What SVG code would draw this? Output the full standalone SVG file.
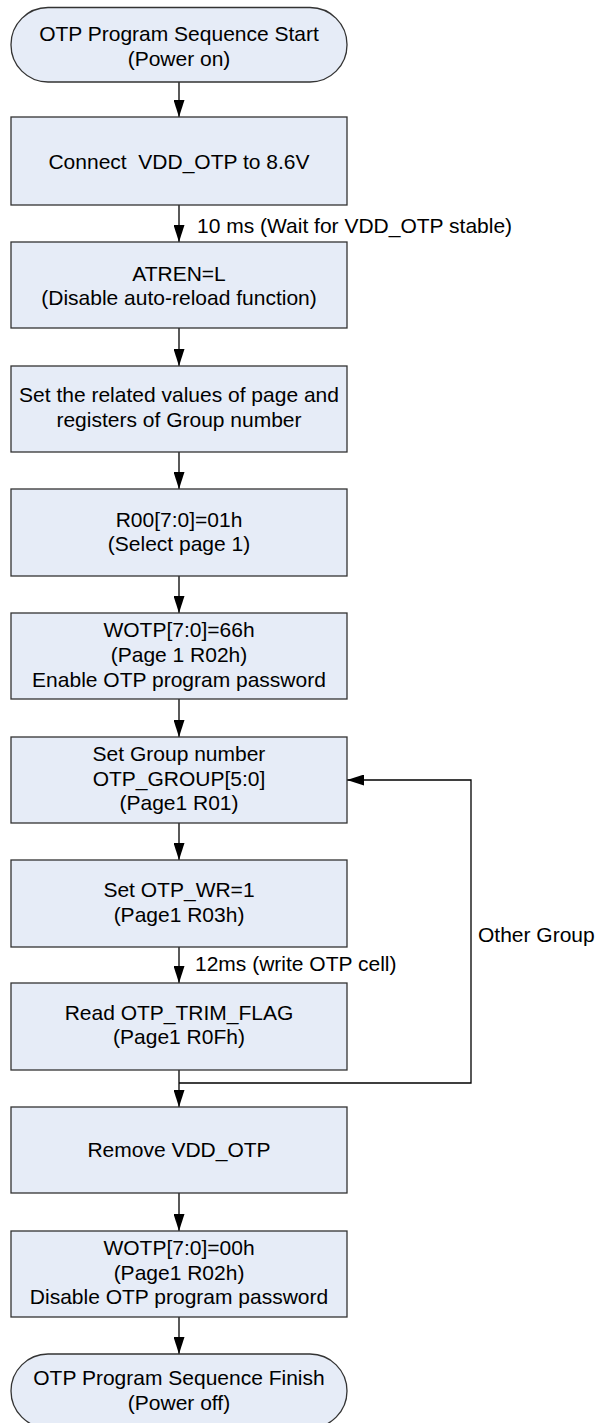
<svg xmlns="http://www.w3.org/2000/svg" width="595" height="1423" viewBox="0 0 595 1423">
<style>
.box{fill:#E6ECF7;stroke:#333333;stroke-width:1.3}
.t{font-family:"Liberation Sans",Arial,sans-serif;font-size:21px;fill:#000;text-anchor:middle}
.l{font-family:"Liberation Sans",Arial,sans-serif;font-size:21px;fill:#000}
.c{fill:none;stroke:#000;stroke-width:1.3}
.pre{white-space:pre}
</style>
<defs>
<marker id="ah" viewBox="0 0 17 11" refX="17" refY="5.5" markerWidth="17" markerHeight="11" markerUnits="userSpaceOnUse" orient="auto">
<path d="M0,0 L17,5.5 L0,11 z" fill="#000"/>
</marker>
</defs>
<rect width="595" height="1423" fill="#fff"/>
<g id="connectors">
<line class="c" x1="179" y1="82" x2="179" y2="117" marker-end="url(#ah)"/>
<line class="c" x1="179" y1="205" x2="179" y2="242" marker-end="url(#ah)"/>
<text class="l" x="197" y="233">10 ms (Wait for VDD_OTP stable)</text>
<line class="c" x1="179" y1="328" x2="179" y2="366" marker-end="url(#ah)"/>
<line class="c" x1="179" y1="452" x2="179" y2="489" marker-end="url(#ah)"/>
<line class="c" x1="179" y1="576" x2="179" y2="613" marker-end="url(#ah)"/>
<line class="c" x1="179" y1="699" x2="179" y2="737" marker-end="url(#ah)"/>
<line class="c" x1="179" y1="823" x2="179" y2="860" marker-end="url(#ah)"/>
<line class="c" x1="179" y1="947" x2="179" y2="983" marker-end="url(#ah)"/>
<text class="l" x="195" y="971">12ms (write OTP cell)</text>
<line class="c" x1="179" y1="1070" x2="179" y2="1107" marker-end="url(#ah)"/>
<polyline class="c" points="179,1083 471,1083 471,780 347,780" marker-end="url(#ah)"/>
<text class="l" x="478" y="942">Other Group</text>
<line class="c" x1="179" y1="1193" x2="179" y2="1231" marker-end="url(#ah)"/>
<line class="c" x1="179" y1="1317" x2="179" y2="1354" marker-end="url(#ah)"/>
</g>
<g id="start">
<rect class="box" x="11" y="7.5" width="336" height="74.5" rx="37" ry="37"/>
<text class="t" x="179" y="41">OTP Program Sequence Start</text>
<text class="t" x="179" y="66">(Power on)</text>
</g>
<g id="connect">
<rect class="box" x="11" y="117" width="336" height="88"/>
<text class="t pre" x="179" y="169" xml:space="preserve">Connect  VDD_OTP to 8.6V</text>
</g>
<g id="atren">
<rect class="box" x="11" y="242" width="336" height="86"/>
<text class="t" x="179" y="281">ATREN=L</text>
<text class="t" x="179" y="305">(Disable auto-reload function)</text>
</g>
<g id="setvalues">
<rect class="box" x="11" y="366" width="336" height="86"/>
<text class="t" x="179" y="402">Set the related values of page and</text>
<text class="t" x="179" y="427">registers of Group number</text>
</g>
<g id="r00">
<rect class="box" x="11" y="489" width="336" height="87"/>
<text class="t" x="179" y="527">R00[7:0]=01h</text>
<text class="t" x="179" y="551">(Select page 1)</text>
</g>
<g id="wotp66">
<rect class="box" x="11" y="613" width="336" height="86"/>
<text class="t" x="179" y="637">WOTP[7:0]=66h</text>
<text class="t" x="179" y="662">(Page 1 R02h)</text>
<text class="t" x="179" y="687">Enable OTP program password</text>
</g>
<g id="setgroup">
<rect class="box" x="11" y="737" width="336" height="86"/>
<text class="t" x="179" y="761">Set Group number</text>
<text class="t" x="179" y="786">OTP_GROUP[5:0]</text>
<text class="t" x="179" y="810">(Page1 R01)</text>
</g>
<g id="setwr">
<rect class="box" x="11" y="860" width="336" height="87"/>
<text class="t" x="179" y="897">Set OTP_WR=1</text>
<text class="t" x="179" y="922">(Page1 R03h)</text>
</g>
<g id="readflag">
<rect class="box" x="11" y="983" width="336" height="87"/>
<text class="t" x="179" y="1020">Read OTP_TRIM_FLAG</text>
<text class="t" x="179" y="1044">(Page1 R0Fh)</text>
</g>
<g id="remove">
<rect class="box" x="11" y="1107" width="336" height="86"/>
<text class="t" x="179" y="1157">Remove VDD_OTP</text>
</g>
<g id="wotp00">
<rect class="box" x="11" y="1231" width="336" height="86"/>
<text class="t" x="179" y="1255">WOTP[7:0]=00h</text>
<text class="t" x="179" y="1280">(Page1 R02h)</text>
<text class="t" x="179" y="1304">Disable OTP program password</text>
</g>
<g id="finish">
<rect class="box" x="11" y="1354" width="336" height="74" rx="37" ry="37"/>
<text class="t" x="179" y="1385">OTP Program Sequence Finish</text>
<text class="t" x="179" y="1410">(Power off)</text>
</g>
</svg>
